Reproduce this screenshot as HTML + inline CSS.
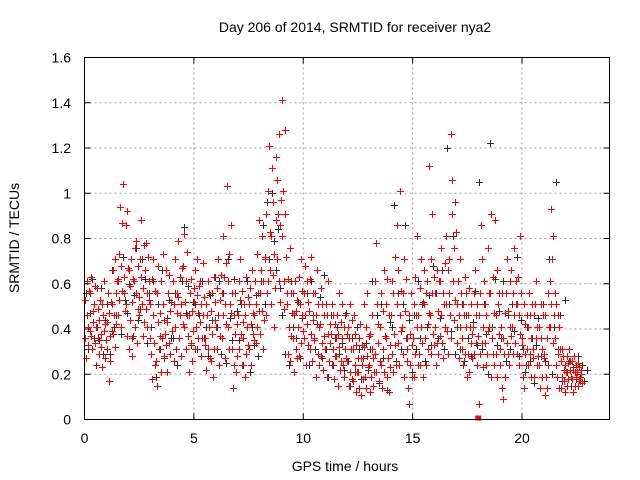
<!DOCTYPE html>
<html><head><meta charset="utf-8"><style>
html,body{margin:0;padding:0;background:#fff;}
svg{display:block;font-family:"Liberation Sans",sans-serif;}
</style></head><body>
<svg id="chart" width="640" height="480">
<text x="355" y="32" text-anchor="middle" font-size="14">Day 206 of 2014, SRMTID for receiver nya2</text>
<text transform="translate(19,238) rotate(-90)" text-anchor="middle" font-size="14">SRMTID / TECUs</text>
<text x="345" y="471" text-anchor="middle" font-size="14">GPS time / hours</text>
<g id="grid"></g>
<g id="black"></g>
<g id="red"></g>
<rect x="84.5" y="57.5" width="525" height="362" fill="none" stroke="#000"/>
<g id="ticks"></g>
</svg>
<script>
const xTicks=[0,5,10,15,20];
const yTicks=[0,0.2,0.4,0.6,0.8,1,1.2,1.4,1.6];
const yTickLabels=["0","0.2","0.4","0.6","0.8","1","1.2","1.4","1.6"];
const redBinWidth=0.25;
const redBins=[
[.36,.53,.27,.46,.61,.41,.33,.57,.39],[.56,.37,.63,.31,.48,.43,.51,.34,.59],[.41,.24,.58,.36,.49,.29,.44,.53,.38],[.32,.51,.23,.46,.39,.61,.27,.42,.35],
[.43,.31,.56,.17,.47,.37,.26,.52,.39],[.51,.66,.38,.46,.71,.32,.56,.42,.61],[.62,.46,.73,.53,.94,.41,.68,.57,.87],[1.04,.56,.63,.48,.86,.51,.37,.92,.67],
[.66,.31,.59,.44,.71,.28,.52,.37,.62],[.61,.76,.41,.56,.79,.34,.49,.68,.54],[.46,.71,.63,.88,.51,.37,.58,.77,.43],[.66,.49,.78,.56,.41,.72,.53,.61,.36],
[.51,.29,.62,.18,.46,.71,.34,.57,.24],[.26,.56,.15,.43,.68,.31,.47,.37,.21],[.61,.36,.51,.73,.28,.44,.38,.66,.33],[.43,.21,.56,.34,.64,.48,.29,.52,.39],
[.39,.61,.26,.51,.71,.41,.31,.47,.56],[.54,.79,.36,.63,.46,.28,.51,.67,.42],[.68,.41,.82,.52,.31,.61,.46,.74,.37],[.46,.21,.56,.34,.62,.26,.48,.39,.58],
[.52,.31,.66,.41,.71,.55,.36,.47,.59],[.43,.61,.28,.51,.36,.69,.46,.54,.33],[.36,.51,.22,.46,.61,.31,.41,.56,.27],[.48,.26,.56,.38,.19,.63,.31,.44,.52],
[.41,.58,.31,.71,.46,.24,.53,.37,.64],[.56,.36,.81,.46,.63,.27,.51,.42,.69],[1.03,.41,.61,.31,.73,.51,.86,.47,.56],[.31,.14,.46,.24,.56,.38,.21,.42,.28],
[.46,.61,.31,.53,.71,.38,.24,.57,.43],[.36,.51,.19,.46,.63,.29,.41,.54,.33],[.51,.31,.58,.42,.24,.66,.38,.47,.35],[.46,.61,.34,.51,.73,.41,.56,.88,.48],
[.56,.38,.66,.48,.81,.31,.61,.44,.72],[.71,.46,.91,.56,1.01,.61,1.21,.83,.66],[.81,.51,1.11,.64,.96,.41,.73,.58,.88],[1.16,.71,1.06,.91,.61,1.26,.86,.52,.97],
[1.41,.81,1.01,.61,.49,.91,1.28,.72,.56],[.51,.29,.62,.41,.76,.26,.56,.37,.47],[.36,.56,.21,.46,.61,.31,.48,.27,.53],[.41,.63,.28,.51,.71,.34,.46,.57,.39],
[.56,.36,.68,.46,.24,.61,.42,.52,.33],[.48,.31,.62,.38,.72,.26,.56,.44,.35],[.36,.56,.19,.46,.66,.29,.51,.41,.24],[.42,.28,.58,.34,.51,.22,.46,.37,.31],
[.31,.51,.19,.46,.38,.61,.26,.42,.34],[.38,.24,.51,.31,.46,.18,.42,.28,.36],[.28,.46,.15,.38,.56,.32,.22,.43,.26],[.36,.51,.24,.41,.19,.46,.31,.27,.38],
[.26,.41,.15,.36,.51,.21,.31,.44,.18],[.31,.17,.46,.24,.38,.12,.33,.21,.27],[.21,.36,.14,.42,.27,.11,.24,.33,.18],[.32,.51,.19,.41,.14,.56,.28,.23,.37],
[.24,.12,.38,.19,.46,.31,.15,.27,.21],[.61,.29,.78,.21,.51,.34,.42,.17,.26],[.41,.24,.56,.14,.48,.31,.66,.21,.37],[.36,.51,.19,.62,.27,.46,.12,.33,.23],
[.46,.29,.61,.21,.56,.38,.72,.33,.24],[.51,.86,.34,.66,.24,.46,1.01,.57,.39],[.41,.56,.29,.71,.19,.48,.62,.36,.26],[.31,.14,.46,.07,.38,.24,.56,.19,.33],
[.36,.51,.19,.63,.29,.46,.81,.41,.24],[.46,.29,.58,.24,.71,.41,.34,.52,.19],[.51,.66,.36,.56,.24,.61,.42,.31,.47],[1.12,.46,.71,.29,.91,.56,.38,.63,.33],
[.41,.56,.24,.66,.34,.48,.29,.61,.37],[.61,.46,.76,.34,.56,.27,.51,.41,.69],[.51,.81,.39,.66,.29,.56,.71,.46,.36],[1.26,.91,1.06,.61,.76,.44,.96,.53,.83],
[.51,.34,.61,.27,.46,.71,.41,.56,.31],[.36,.51,.24,.46,.63,.29,.56,.41,.19],[.46,.29,.58,.21,.41,.51,.34,.27,.38],[.41,.56,.29,.66,.46,.34,.24,.51,.37],
[.07,.46,.29,.56,.86,.34,.71,.41,.23],[.61,.34,.51,.24,.46,.29,.76,.39,.56],[.41,.56,.19,.91,.36,.63,.29,.47,.24],[.88,.46,.29,.66,.19,.51,.38,.56,.31],
[.24,.41,.14,.56,.09,.36,.29,.47,.19],[.56,.34,.71,.29,.48,.24,.61,.41,.37],[.66,.41,.56,.29,.76,.46,.34,.61,.51],[.51,.29,.63,.24,.46,.81,.38,.56,.33],
[.36,.19,.51,.14,.42,.29,.24,.46,.31],[.41,.24,.56,.29,.46,.19,.36,.51,.27],[.31,.46,.19,.51,.36,.61,.24,.41,.28],[.24,.41,.14,.36,.51,.19,.31,.46,.27],
[.29,.11,.46,.19,.36,.14,.56,.24,.41],[.61,.41,.93,.51,.71,.34,.81,.46,.56],[.36,.24,.51,.19,.46,.29,.14,.41,.31],[.26,.14,.31,.19,.28,.17,.22,.24,.12],
[.21,.28,.15,.25,.18,.31,.22,.26,.19],[.18,.26,.12,.22,.28,.21,.15,.24,.19],[.21,.15,.25,.18,.23,.17,.2,.22,.16]
];
const blackBinWidth=0.5;
const blackBins=[
[.56,.31,.47,.62,.36],[.41,.35,.58,.29,.44],[.51,.29,.66,.41,.46],[.61,.38,.72,.53,.47],
[.6,.36,.55,.76,.44],[.49,.71,.62,.34,.56],[.41,.61,.19,.51,.31],[.66,.27,.45,.53,.36],
[.36,.56,.24,.46,.61],[.85,.47,.59,.33,.52],[.51,.31,.46,.61,.36],[.41,.28,.55,.44,.63],
[.41,.61,.29,.56,.25],[.71,.45,.35,.62,.48],[.35,.51,.24,.46,.61],[.21,.41,.33,.55,.28],
[.61,.86,.51,.96,.71],[1.0,.79,.66,.84,.58],[.46,.29,.56,.24,.61],[.41,.36,.52,.27,.45],
[.36,.56,.24,.61,.46],[.31,.42,.54,.27,.64],[.31,.19,.46,.24,.36],[.41,.29,.34,.22,.47],
[.26,.15,.36,.21,.41],[.31,.18,.27,.34,.22],[.31,.61,.21,.46,.16],[.51,.27,.37,.13,.43],
[.41,.95,.26,.56,.31],[.51,.86,.36,.44,.21],[.46,.31,.61,.36,.51],[.26,.41,.55,.33,.68],
[.56,.36,.45,.66,.31],[1.2,.51,.39,.81,.29],[.41,.31,.51,.26,.46],[.36,.28,.43,.57,.33],
[1.05,.31,.51,.38,.2],[1.22,.41,.62,.33,.48],[.36,.61,.26,.46,.31],[.51,.39,.72,.28,.44],
[.31,.21,.41,.26,.36],[.16,.33,.45,.28,.51],[.26,.36,.71,.2,.41],[1.05,.31,.46,.17,.53],
[.21,.26,.15,.23,.18],[.28,.19,.24,.17,.22]
];
const squareT=[18];
const squareV=[0];

const NS="http://www.w3.org/2000/svg";
const X0=84.5,X1=609.5,Y0=419.5,Y1=57.5;
function xs(t){return X0+(t/24)*(X1-X0);}
function ys(v){return Y0-(v/1.6)*(Y0-Y1);}
function mk(tag,attrs,parent){const e=document.createElementNS(NS,tag);for(const k in attrs)e.setAttribute(k,attrs[k]);parent.appendChild(e);return e;}
const grid=document.getElementById('grid'),ticks=document.getElementById('ticks');
xTicks.forEach((t,i)=>{
  const x=xs(t);
  if(t>0){const l=mk('line',{x1:x,x2:x,y1:Y1,y2:Y0,stroke:'#a0a0a0','stroke-dasharray':'2,3'},grid);
  
  }
  mk('line',{x1:x,x2:x,y1:Y0,y2:Y0-6,stroke:'#000'},ticks);
  mk('line',{x1:x,x2:x,y1:Y1,y2:Y1+6,stroke:'#000'},ticks);
  const tx=mk('text',{x:x,y:443,'text-anchor':'middle','font-size':14},ticks);
  tx.textContent=String(t);
  
  
});
yTicks.forEach((v,i)=>{
  const y=ys(v);
  if(v>0&&v<1.6){const l=mk('line',{x1:X0,x2:X1,y1:y,y2:y,stroke:'#a0a0a0','stroke-dasharray':'2,3'},grid);
  
  }
  mk('line',{x1:X0,x2:X0+6,y1:y,y2:y,stroke:'#000'},ticks);
  mk('line',{x1:X1,x2:X1-6,y1:y,y2:y,stroke:'#000'},ticks);
  const tx=mk('text',{x:71,y:y+5,'text-anchor':'end','font-size':14},ticks);
  tx.textContent=yTickLabels[i];
  
  
});
function plus(g,t,v,color){
  const x=Math.round(xs(t))+0.5,y=Math.round(ys(v))+0.5;
  const p=mk('path',{d:`M${x-3.5} ${y}H${x+3.5}M${x} ${y-3.5}V${y+3.5}`,stroke:color,'stroke-width':1,fill:'none'},g);
  
  
}
function drawBins(bins,w,g,color){
  bins.forEach((vals,b)=>{vals.forEach((v,k)=>{plus(g,b*w+(k+0.5)*w/vals.length,v,color);});});
}
drawBins(blackBins,blackBinWidth,document.getElementById('black'),'#303030');
drawBins(redBins,redBinWidth,document.getElementById('red'),'#ff0000');
squareT.forEach((t,i)=>{
  const r=mk('rect',{x:xs(t)-3,y:ys(squareV[i])-4,width:6,height:5,fill:'#ff0000'},document.getElementById('red'));
  
  
});
</script>
</body></html>
